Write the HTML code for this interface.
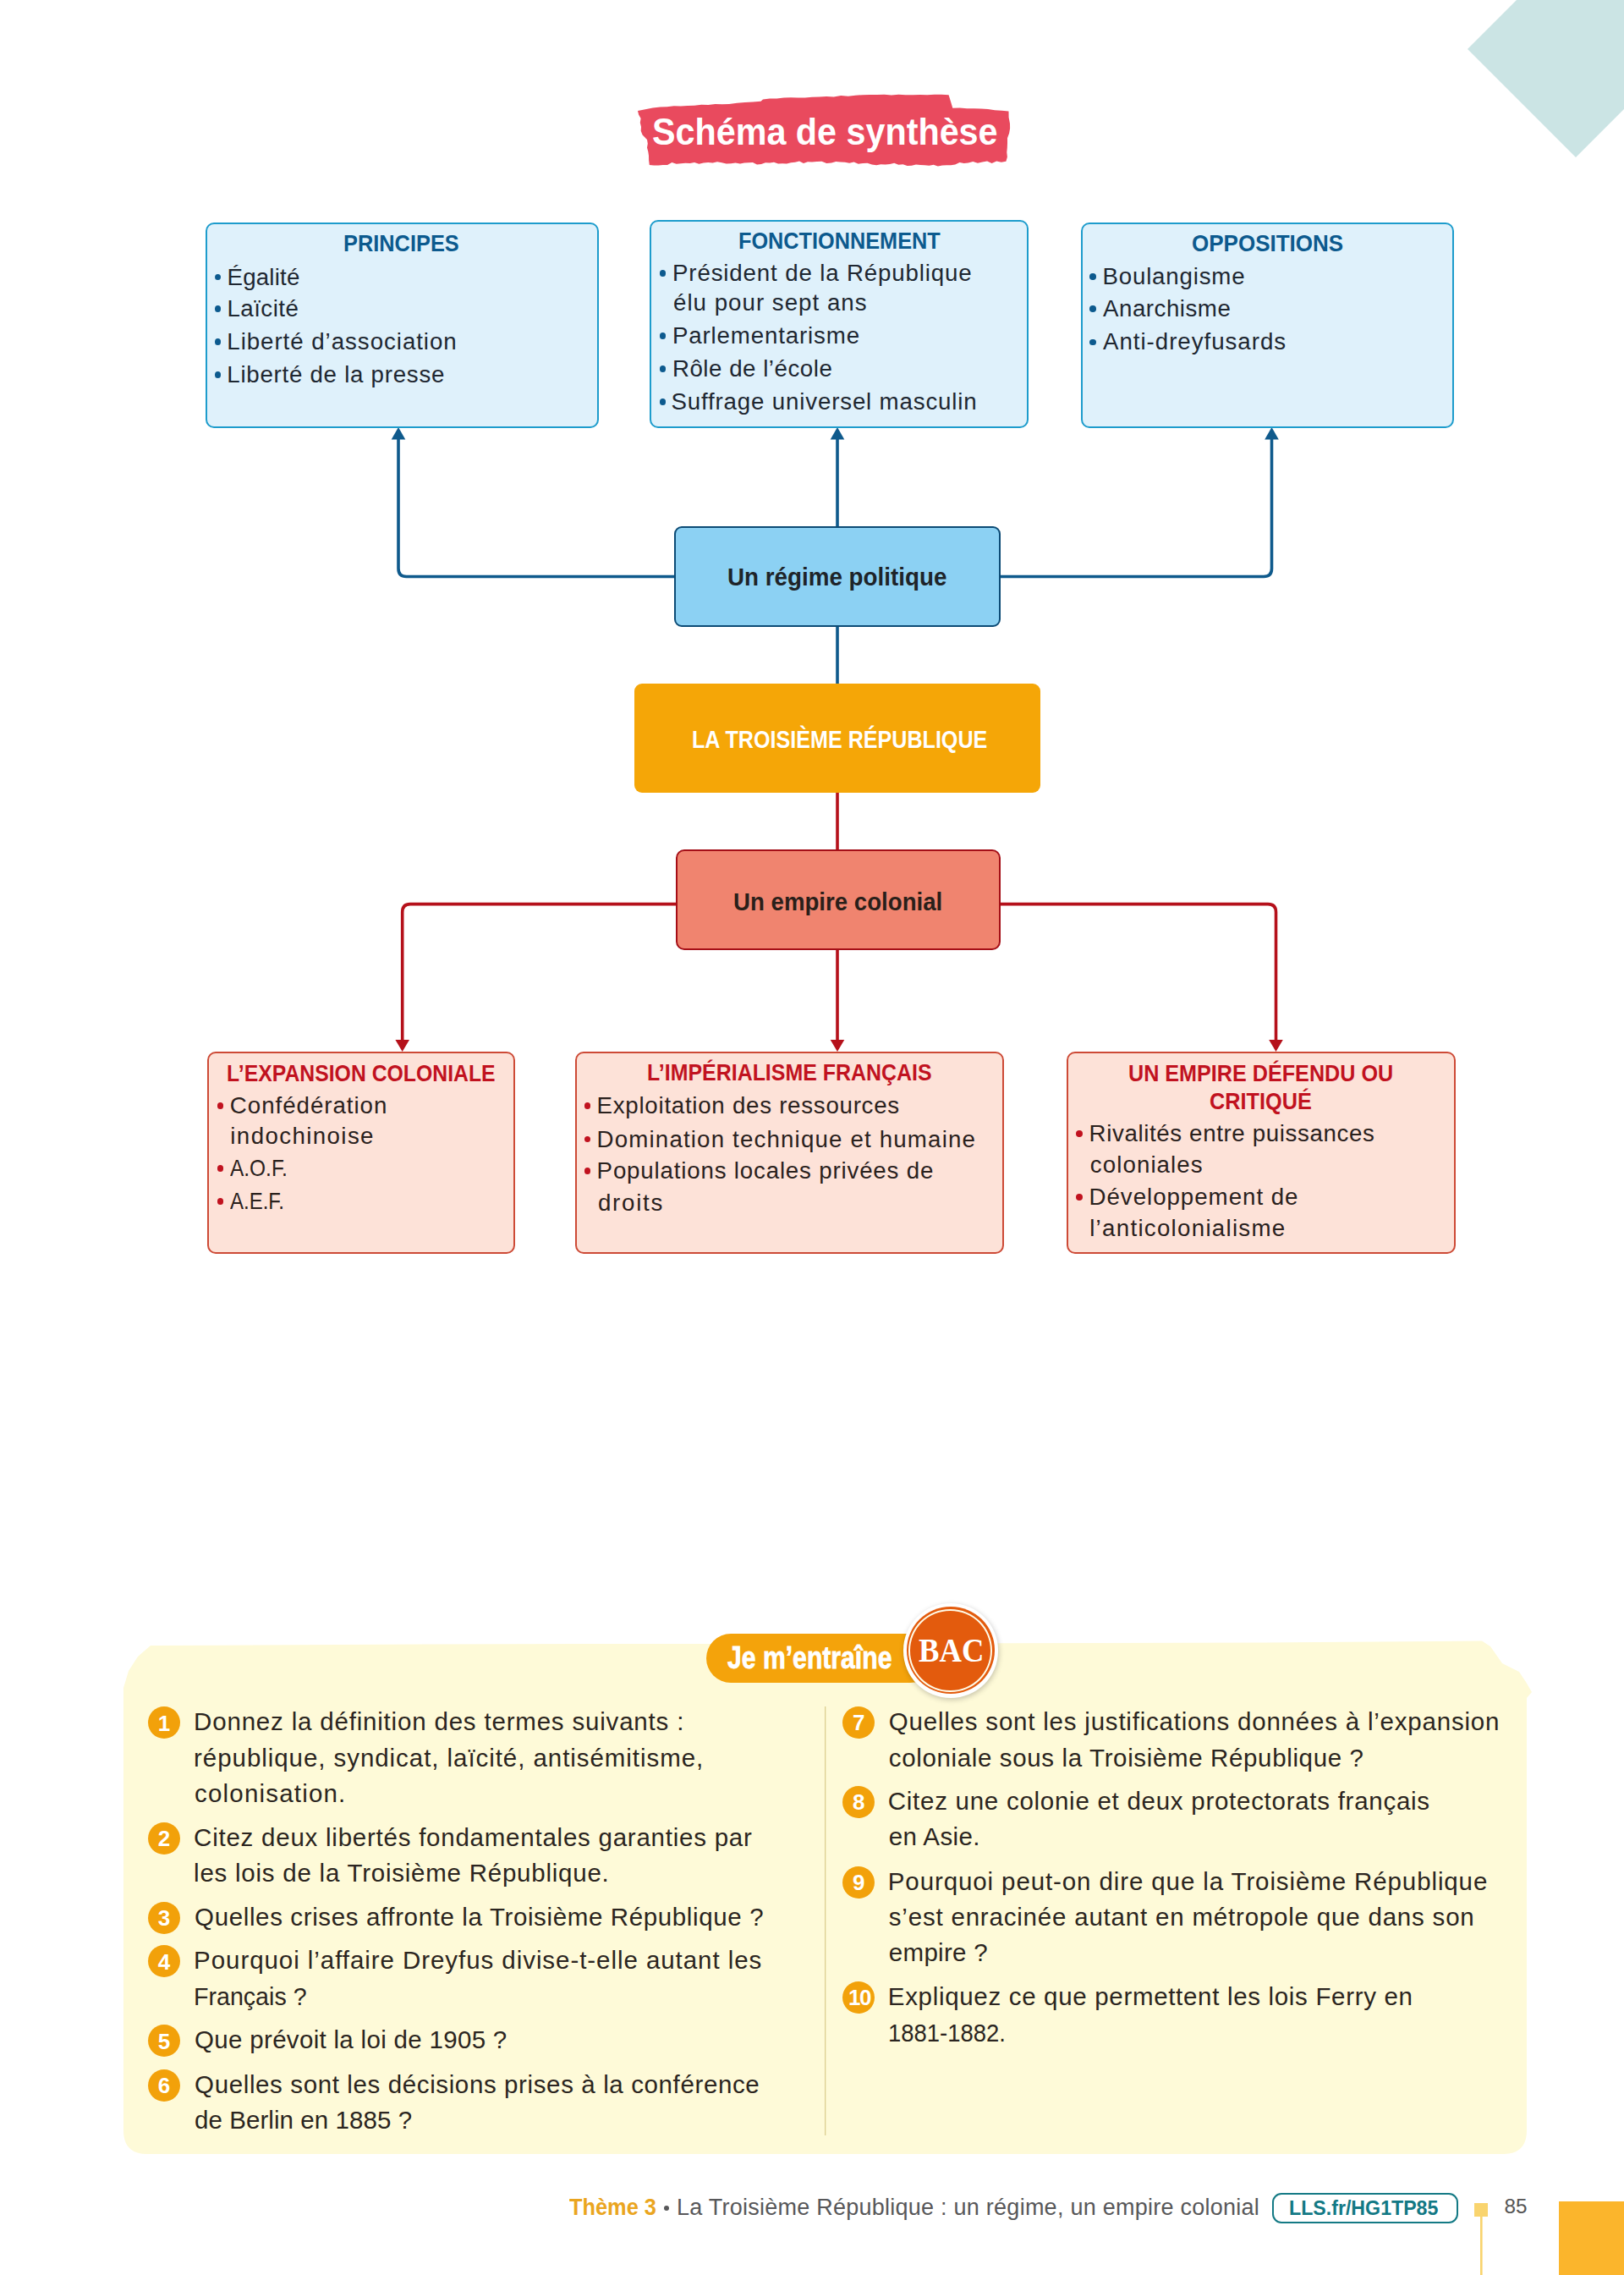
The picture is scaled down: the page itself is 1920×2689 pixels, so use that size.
<!DOCTYPE html>
<html><head><meta charset="utf-8"><style>
html,body{margin:0;padding:0;background:#ffffff;}
body{width:1920px;height:2689px;position:relative;overflow:hidden;font-family:"Liberation Sans",sans-serif;}
.t{position:absolute;white-space:nowrap;line-height:1;}
.b{position:absolute;box-sizing:border-box;}
.s{position:absolute;left:0;top:0;}
</style></head><body>
<svg class="s" width="1920" height="2689" viewBox="0 0 1920 2689"><polygon points="1735,58 1863,-70 1991,58 1863,186" fill="#cbe4e4"/><path d="M754.0,131.0 L762.9,129.3 L771.7,127.5 L780.6,126.4 L788.7,126.2 L796.8,125.2 L804.8,125.4 L812.9,124.9 L821.0,124.7 L829.2,123.8 L837.4,124.0 L845.6,123.1 L853.8,123.3 L862.0,123.0 L871.4,121.7 L880.8,120.9 L890.1,120.5 L899.5,119.8 L902.0,117.6 L910.0,116.5 L918.3,116.6 L926.7,115.5 L935.0,115.3 L943.3,115.5 L951.7,115.6 L960.0,114.8 L968.6,114.6 L977.1,114.1 L985.7,114.4 L994.2,113.0 L1002.8,113.7 L1011.3,112.7 L1019.9,112.2 L1028.4,111.9 L1037.0,112.0 L1045.5,111.8 L1053.9,112.4 L1062.4,111.7 L1070.8,112.2 L1079.3,112.3 L1087.8,112.0 L1096.2,112.3 L1104.7,111.7 L1113.1,111.7 L1121.6,112.3 L1124.0,120.0 L1126.3,127.7 L1134.7,127.5 L1143.2,128.3 L1151.6,128.2 L1160.0,128.5 L1168.1,129.1 L1176.2,130.2 L1184.4,130.8 L1192.5,131.6 L1192.6,138.8 L1194.0,146.0 L1194.1,151.8 L1193.1,157.5 L1191.0,163.2 L1191.0,169.0 L1190.8,174.4 L1190.3,179.9 L1190.9,185.4 L1189.4,190.8 L1183.8,191.7 L1178.2,190.5 L1172.6,192.9 L1167.1,190.4 L1161.5,191.5 L1155.9,192.8 L1150.3,191.1 L1144.7,192.4 L1139.6,192.9 L1134.5,192.0 L1129.3,194.5 L1124.2,195.3 L1119.1,195.2 L1114.0,195.5 L1108.8,196.6 L1103.7,194.7 L1098.5,195.7 L1093.3,195.3 L1088.2,195.1 L1083.0,194.6 L1077.8,195.7 L1072.7,195.9 L1067.5,194.3 L1062.3,194.8 L1057.2,192.7 L1052.0,194.0 L1046.7,194.5 L1041.4,194.2 L1036.1,195.2 L1030.8,194.5 L1025.5,192.7 L1020.2,192.9 L1014.8,193.7 L1009.5,191.5 L1004.2,192.8 L998.9,191.7 L993.6,191.4 L988.3,191.1 L983.0,192.4 L977.2,193.0 L971.5,190.8 L965.8,190.9 L960.0,191.5 L955.0,191.3 L950.0,192.9 L945.0,190.5 L940.0,191.8 L935.0,192.2 L930.0,193.4 L925.0,193.3 L920.0,193.6 L915.0,191.8 L910.0,192.4 L905.0,192.3 L900.0,194.1 L895.0,194.5 L890.0,192.0 L885.0,192.2 L880.0,192.5 L875.0,193.5 L869.6,192.5 L864.2,193.2 L858.8,193.4 L853.4,192.2 L848.0,191.2 L842.6,192.4 L837.2,192.1 L831.8,192.6 L826.4,193.7 L821.0,192.1 L815.7,193.0 L810.4,192.7 L805.0,193.3 L799.7,193.8 L794.4,192.1 L789.1,195.1 L783.8,195.0 L778.4,195.5 L773.1,195.6 L767.8,194.9 L767.1,189.4 L767.0,184.0 L766.3,179.2 L765.0,174.5 L765.8,169.8 L765.0,165.0 L759.6,159.6 L757.7,154.8 L758.0,150.0 L756.8,145.0 L757.6,140.0 L755.1,135.5 L754.0,131.0 Z" fill="#e94a5e"/><path d="M471,519 L471,672 Q471,681.5 480.5,681.5 L798,681.5" fill="none" stroke="#0f5a8c" stroke-width="3.6"/><path d="M1182,681.5 L1494,681.5 Q1503.5,681.5 1503.5,672 L1503.5,519" fill="none" stroke="#0f5a8c" stroke-width="3.6"/><path d="M990,519 L990,624" fill="none" stroke="#0f5a8c" stroke-width="3.6"/><path d="M990,740 L990,809" fill="none" stroke="#0f5a8c" stroke-width="3.6"/><polygon points="471,505 479.3,519.5 462.7,519.5" fill="#0f5a8c"/><polygon points="990,505 998.3,519.5 981.7,519.5" fill="#0f5a8c"/><polygon points="1503.5,505 1511.8,519.5 1495.2,519.5" fill="#0f5a8c"/><path d="M990,936 L990,1005" fill="none" stroke="#b5111b" stroke-width="3.6"/><path d="M990,1122 L990,1230" fill="none" stroke="#b5111b" stroke-width="3.6"/><path d="M800,1068.6 L485,1068.6 Q475.7,1068.6 475.7,1078 L475.7,1230" fill="none" stroke="#b5111b" stroke-width="3.6"/><path d="M1182,1068.6 L1499,1068.6 Q1508.5,1068.6 1508.5,1078 L1508.5,1230" fill="none" stroke="#b5111b" stroke-width="3.6"/><polygon points="467.4,1229 484.0,1229 475.7,1243" fill="#b5111b"/><polygon points="981.7,1229 998.3,1229 990,1243" fill="#b5111b"/><polygon points="1500.2,1229 1516.8,1229 1508.5,1243" fill="#b5111b"/><path d="M178,1945 L300,1944.5 L500,1943.5 L700,1943 L900,1943 L1100,1942.5 L1300,1942 L1500,1941.5 L1700,1940 L1752,1939.5 L1762,1946 L1776,1966 L1796,1976 L1804,1988 L1811,2000 L1805,2007 L1805,2518 Q1805,2546 1777,2546 L174,2546 Q146,2546 146,2518 L146,1995 L152,1975 L163,1958 Z" fill="#fefad8"/><rect x="975" y="2017" width="1.3" height="507" fill="#dccf90"/><rect x="1743" y="2604" width="16" height="16" fill="#f9d46e"/><rect x="1750" y="2618" width="2.6" height="71" fill="#f9d46e"/><rect x="1843" y="2602" width="77" height="87" fill="#fbb52c"/></svg>
<div class="b" style="left:242.7px;top:262.8px;width:465.3px;height:243.2px;border:2.5px solid #1d9ccc;background:#dff1fb;border-radius:10px"></div>
<div class="b" style="left:768px;top:260.3px;width:448px;height:245.7px;border:2.5px solid #1d9ccc;background:#dff1fb;border-radius:10px"></div>
<div class="b" style="left:1277.7px;top:263px;width:441.29999999999995px;height:243px;border:2.5px solid #1d9ccc;background:#dff1fb;border-radius:10px"></div>
<div class="b" style="left:253.6px;top:323.5px;width:7.6px;height:7.6px;border-radius:50%;background:#0c5a8e"></div>
<div class="b" style="left:253.6px;top:361.2px;width:7.6px;height:7.6px;border-radius:50%;background:#0c5a8e"></div>
<div class="b" style="left:253.6px;top:400.2px;width:7.6px;height:7.6px;border-radius:50%;background:#0c5a8e"></div>
<div class="b" style="left:253.6px;top:439.0px;width:7.6px;height:7.6px;border-radius:50%;background:#0c5a8e"></div>
<div class="b" style="left:779.9px;top:319.0px;width:7.6px;height:7.6px;border-radius:50%;background:#0c5a8e"></div>
<div class="b" style="left:779.9px;top:393.3px;width:7.6px;height:7.6px;border-radius:50%;background:#0c5a8e"></div>
<div class="b" style="left:779.9px;top:432.2px;width:7.6px;height:7.6px;border-radius:50%;background:#0c5a8e"></div>
<div class="b" style="left:779.9px;top:471.3px;width:7.6px;height:7.6px;border-radius:50%;background:#0c5a8e"></div>
<div class="b" style="left:1288.3px;top:323.1px;width:7.6px;height:7.6px;border-radius:50%;background:#0c5a8e"></div>
<div class="b" style="left:1288.3px;top:361.3px;width:7.6px;height:7.6px;border-radius:50%;background:#0c5a8e"></div>
<div class="b" style="left:1288.3px;top:400.5px;width:7.6px;height:7.6px;border-radius:50%;background:#0c5a8e"></div>
<div class="b" style="left:797px;top:622.4px;width:386px;height:118.60000000000002px;border:2.5px solid #0c4b75;background:#8cd1f3;border-radius:9px"></div>
<div class="b" style="left:750px;top:808px;width:480px;height:129px;background:#f5a607;border-radius:9px"></div>
<div class="b" style="left:799px;top:1004.3px;width:384px;height:118.70000000000005px;border:2.5px solid #a50f17;background:#f0846f;border-radius:10px"></div>
<div class="b" style="left:245px;top:1243px;width:363.5px;height:239px;border:2.3px solid #cd4a36;background:#fde2d8;border-radius:10px"></div>
<div class="b" style="left:680px;top:1243px;width:506.5px;height:239px;border:2.3px solid #cd4a36;background:#fde2d8;border-radius:10px"></div>
<div class="b" style="left:1261px;top:1243px;width:460px;height:239px;border:2.3px solid #cd4a36;background:#fde2d8;border-radius:10px"></div>
<div class="b" style="left:256.6px;top:1303.2px;width:7.6px;height:7.6px;border-radius:50%;background:#c1121f"></div>
<div class="b" style="left:256.6px;top:1377.4px;width:7.6px;height:7.6px;border-radius:50%;background:#c1121f"></div>
<div class="b" style="left:256.6px;top:1416.3px;width:7.6px;height:7.6px;border-radius:50%;background:#c1121f"></div>
<div class="b" style="left:690.6px;top:1303.2px;width:7.6px;height:7.6px;border-radius:50%;background:#c1121f"></div>
<div class="b" style="left:690.6px;top:1342.5px;width:7.6px;height:7.6px;border-radius:50%;background:#c1121f"></div>
<div class="b" style="left:690.6px;top:1380.4px;width:7.6px;height:7.6px;border-radius:50%;background:#c1121f"></div>
<div class="b" style="left:1272.0px;top:1336.1px;width:7.8px;height:7.8px;border-radius:50%;background:#c1121f"></div>
<div class="b" style="left:1272.0px;top:1411.3px;width:7.8px;height:7.8px;border-radius:50%;background:#c1121f"></div>
<div class="b" style="left:835px;top:1931px;width:270px;height:58px;background:#f4a30b;border-radius:29px"></div>
<div class="t" style="left:859.5px;top:1941.4px;font-size:37px;font-weight:700;color:#ffffff;letter-spacing:0px;transform:scaleX(0.815);transform-origin:0 0;-webkit-text-stroke:0.8px #ffffff;">Je m’entraîne</div>
<div class="b" style="left:1067.7px;top:1895.2px;width:112.4px;height:111.4px;border-radius:50%;background:#ffffff;box-shadow:1px 2px 6px rgba(0,0,0,0.22)"></div>
<div class="b" style="left:1072px;top:1899.2px;width:103.7px;height:103.3px;border-radius:50%;background:#e35b0d"></div>
<div class="b" style="left:1074.4px;top:1901.6px;width:98.9px;height:98.5px;border-radius:50%;border:2px solid #fffbe8"></div>
<div class="t" style="left:1086.3px;top:1931px;font-family:'Liberation Serif',serif;font-size:40px;font-weight:700;color:#fff;transform:scaleX(0.916);transform-origin:0 0">BAC</div>
<div class="b" style="left:175.0px;top:2017.1px;width:38px;height:38px;border-radius:50%;background:#f2a10a"></div>
<div class="t" style="left:164.0px;width:60px;text-align:center;top:2023.6px;font-size:26px;font-weight:700;color:#fff;letter-spacing:0px">1</div>
<div class="b" style="left:175.0px;top:2153.7px;width:38px;height:38px;border-radius:50%;background:#f2a10a"></div>
<div class="t" style="left:164.0px;width:60px;text-align:center;top:2160.2px;font-size:26px;font-weight:700;color:#fff;letter-spacing:0px">2</div>
<div class="b" style="left:175.0px;top:2247.5px;width:38px;height:38px;border-radius:50%;background:#f2a10a"></div>
<div class="t" style="left:164.0px;width:60px;text-align:center;top:2254.0px;font-size:26px;font-weight:700;color:#fff;letter-spacing:0px">3</div>
<div class="b" style="left:175.0px;top:2299.4px;width:38px;height:38px;border-radius:50%;background:#f2a10a"></div>
<div class="t" style="left:164.0px;width:60px;text-align:center;top:2305.9px;font-size:26px;font-weight:700;color:#fff;letter-spacing:0px">4</div>
<div class="b" style="left:175.0px;top:2393.3px;width:38px;height:38px;border-radius:50%;background:#f2a10a"></div>
<div class="t" style="left:164.0px;width:60px;text-align:center;top:2399.8px;font-size:26px;font-weight:700;color:#fff;letter-spacing:0px">5</div>
<div class="b" style="left:175.0px;top:2445.6px;width:38px;height:38px;border-radius:50%;background:#f2a10a"></div>
<div class="t" style="left:164.0px;width:60px;text-align:center;top:2452.1px;font-size:26px;font-weight:700;color:#fff;letter-spacing:0px">6</div>
<div class="b" style="left:996.3px;top:2016.8px;width:38px;height:38px;border-radius:50%;background:#f2a10a"></div>
<div class="t" style="left:985.3px;width:60px;text-align:center;top:2023.3px;font-size:26px;font-weight:700;color:#fff;letter-spacing:0px">7</div>
<div class="b" style="left:996.3px;top:2110.6px;width:38px;height:38px;border-radius:50%;background:#f2a10a"></div>
<div class="t" style="left:985.3px;width:60px;text-align:center;top:2117.1px;font-size:26px;font-weight:700;color:#fff;letter-spacing:0px">8</div>
<div class="b" style="left:996.3px;top:2205.6px;width:38px;height:38px;border-radius:50%;background:#f2a10a"></div>
<div class="t" style="left:985.3px;width:60px;text-align:center;top:2212.1px;font-size:26px;font-weight:700;color:#fff;letter-spacing:0px">9</div>
<div class="b" style="left:996.3px;top:2341.7px;width:38px;height:38px;border-radius:50%;background:#f2a10a"></div>
<div class="t" style="left:986.0px;width:60px;text-align:center;top:2348.2px;font-size:26px;font-weight:700;color:#fff;letter-spacing:-1.5px">10</div>
<div class="t" style="left:673px;top:2596.1px;font-size:27px;font-weight:700;color:#eaa520;transform:scaleX(0.94);transform-origin:0 0">Thème 3</div>
<div class="b" style="left:784.7px;top:2606.5px;width:6.2px;height:6.2px;border-radius:50%;background:#58585a"></div>
<div class="t" style="left:799.9px;top:2596.1px;font-size:27px;color:#58585a;letter-spacing:0.25px">La Troisième République : un régime, un empire colonial</div>
<div class="b" style="left:1503.5px;top:2591.9px;width:220px;height:36.4px;border:2.1px solid #147a85;border-radius:11px"></div>
<div class="t" style="left:1523.7px;top:2597.8px;font-size:24.4px;font-weight:700;color:#137985;transform:scaleX(0.95);transform-origin:0 0">LLS.fr/HG1TP85</div>
<div class="t" style="left:1778.4px;top:2595.9px;font-size:24.3px;color:#555555">85</div>
<div class="t" style="left:268.5px;top:313.5px;font-size:27.7px;font-weight:400;color:#1e2731;letter-spacing:0.20px;">Égalité</div>
<div class="t" style="left:268.5px;top:351.2px;font-size:27.7px;font-weight:400;color:#1e2731;letter-spacing:0.45px;">Laïcité</div>
<div class="t" style="left:268.3px;top:390.2px;font-size:27.7px;font-weight:400;color:#1e2731;letter-spacing:0.95px;">Liberté d’association</div>
<div class="t" style="left:268.3px;top:429.0px;font-size:27.7px;font-weight:400;color:#1e2731;letter-spacing:0.73px;">Liberté de la presse</div>
<div class="t" style="left:795.0px;top:309.0px;font-size:27.7px;font-weight:400;color:#1e2731;letter-spacing:0.85px;">Président de la République</div>
<div class="t" style="left:796.0px;top:344.2px;font-size:27.7px;font-weight:400;color:#1e2731;letter-spacing:1.01px;">élu pour sept ans</div>
<div class="t" style="left:794.9px;top:383.3px;font-size:27.7px;font-weight:400;color:#1e2731;letter-spacing:0.85px;">Parlementarisme</div>
<div class="t" style="left:794.9px;top:422.2px;font-size:27.7px;font-weight:400;color:#1e2731;letter-spacing:0.52px;">Rôle de l’école</div>
<div class="t" style="left:793.5px;top:461.3px;font-size:27.7px;font-weight:400;color:#1e2731;letter-spacing:0.83px;">Suffrage universel masculin</div>
<div class="t" style="left:1303.5px;top:312.9px;font-size:27.7px;font-weight:400;color:#1e2731;letter-spacing:0.80px;">Boulangisme</div>
<div class="t" style="left:1304.0px;top:351.1px;font-size:27.7px;font-weight:400;color:#1e2731;letter-spacing:0.51px;">Anarchisme</div>
<div class="t" style="left:1304.0px;top:390.3px;font-size:27.7px;font-weight:400;color:#1e2731;letter-spacing:0.97px;">Anti-dreyfusards</div>
<div class="t" style="left:271.8px;top:1293.2px;font-size:27.7px;font-weight:400;color:#2a211d;letter-spacing:0.97px;">Confédération</div>
<div class="t" style="left:272.3px;top:1328.5px;font-size:27.7px;font-weight:400;color:#2a211d;letter-spacing:1.39px;">indochinoise</div>
<div class="t" style="left:272.0px;top:1367.4px;font-size:27.7px;font-weight:400;color:#2a211d;letter-spacing:0.00px;transform:scaleX(0.8827);transform-origin:0 0;">A.O.F.</div>
<div class="t" style="left:272.0px;top:1406.3px;font-size:27.7px;font-weight:400;color:#2a211d;letter-spacing:0.00px;transform:scaleX(0.8667);transform-origin:0 0;">A.E.F.</div>
<div class="t" style="left:705.6px;top:1293.2px;font-size:27.7px;font-weight:400;color:#2a211d;letter-spacing:0.73px;">Exploitation des ressources</div>
<div class="t" style="left:705.6px;top:1332.5px;font-size:27.7px;font-weight:400;color:#2a211d;letter-spacing:1.16px;">Domination technique et humaine</div>
<div class="t" style="left:705.6px;top:1370.4px;font-size:27.7px;font-weight:400;color:#2a211d;letter-spacing:0.82px;">Populations locales privées de</div>
<div class="t" style="left:707.0px;top:1408.0px;font-size:27.7px;font-weight:400;color:#2a211d;letter-spacing:1.72px;">droits</div>
<div class="t" style="left:1287.5px;top:1326.2px;font-size:27.7px;font-weight:400;color:#2a211d;letter-spacing:0.63px;">Rivalités entre puissances</div>
<div class="t" style="left:1288.8px;top:1362.5px;font-size:27.7px;font-weight:400;color:#2a211d;letter-spacing:1.08px;">coloniales</div>
<div class="t" style="left:1287.5px;top:1401.4px;font-size:27.7px;font-weight:400;color:#2a211d;letter-spacing:0.97px;">Développement de</div>
<div class="t" style="left:1288.2px;top:1438.0px;font-size:27.7px;font-weight:400;color:#2a211d;letter-spacing:1.28px;">l’anticolonialisme</div>
<div class="t" style="left:406.3px;top:274.4px;font-size:27.6px;font-weight:700;color:#0c5a8e;letter-spacing:0.00px;transform:scaleX(0.9192);transform-origin:0 0;">PRINCIPES</div>
<div class="t" style="left:873.1px;top:271.4px;font-size:27.6px;font-weight:700;color:#0c5a8e;letter-spacing:0.00px;transform:scaleX(0.9159);transform-origin:0 0;">FONCTIONNEMENT</div>
<div class="t" style="left:1408.5px;top:274.4px;font-size:27.6px;font-weight:700;color:#0c5a8e;letter-spacing:0.00px;transform:scaleX(0.9426);transform-origin:0 0;">OPPOSITIONS</div>
<div class="t" style="left:860.0px;top:668.0px;font-size:29px;font-weight:700;color:#1e2429;letter-spacing:0.00px;transform:scaleX(0.9582);transform-origin:0 0;">Un régime politique</div>
<div class="t" style="left:818.3px;top:860.2px;font-size:29px;font-weight:700;color:#ffffff;letter-spacing:0.00px;transform:scaleX(0.8660);transform-origin:0 0;">LA TROISIÈME RÉPUBLIQUE</div>
<div class="t" style="left:867.1px;top:1051.5px;font-size:29px;font-weight:700;color:#2a1f1a;letter-spacing:0.00px;transform:scaleX(0.9531);transform-origin:0 0;">Un empire colonial</div>
<div class="t" style="left:268.4px;top:1254.8px;font-size:27.2px;font-weight:700;color:#c1121f;letter-spacing:0.00px;transform:scaleX(0.9116);transform-origin:0 0;">L’EXPANSION COLONIALE</div>
<div class="t" style="left:764.5px;top:1254.3px;font-size:27.2px;font-weight:700;color:#c1121f;letter-spacing:0.00px;transform:scaleX(0.9168);transform-origin:0 0;">L’IMPÉRIALISME FRANÇAIS</div>
<div class="t" style="left:1334.0px;top:1254.8px;font-size:27.2px;font-weight:700;color:#c1121f;letter-spacing:0.00px;transform:scaleX(0.9254);transform-origin:0 0;">UN EMPIRE DÉFENDU OU</div>
<div class="t" style="left:1430.1px;top:1287.9px;font-size:27.2px;font-weight:700;color:#c1121f;letter-spacing:0.00px;transform:scaleX(0.9297);transform-origin:0 0;">CRITIQUÉ</div>
<div class="t" style="left:771.2px;top:133.0px;font-size:45px;font-weight:700;color:#ffffff;letter-spacing:0.00px;transform:scaleX(0.9176);transform-origin:0 0;">Schéma de synthèse</div>
<div class="t" style="left:229.1px;top:2020.1px;font-size:29.5px;font-weight:400;color:#2b2520;letter-spacing:0.81px;">Donnez la définition des termes suivants :</div>
<div class="t" style="left:229.1px;top:2062.7px;font-size:29.5px;font-weight:400;color:#2b2520;letter-spacing:0.94px;">république, syndicat, laïcité, antisémitisme,</div>
<div class="t" style="left:230.1px;top:2105.0px;font-size:29.5px;font-weight:400;color:#2b2520;letter-spacing:1.18px;">colonisation.</div>
<div class="t" style="left:229.1px;top:2156.7px;font-size:29.5px;font-weight:400;color:#2b2520;letter-spacing:0.76px;">Citez deux libertés fondamentales garanties par</div>
<div class="t" style="left:229.1px;top:2198.9px;font-size:29.5px;font-weight:400;color:#2b2520;letter-spacing:0.76px;">les lois de la Troisième République.</div>
<div class="t" style="left:230.1px;top:2250.5px;font-size:29.5px;font-weight:400;color:#2b2520;letter-spacing:0.63px;">Quelles crises affronte la Troisième République ?</div>
<div class="t" style="left:229.1px;top:2302.4px;font-size:29.5px;font-weight:400;color:#2b2520;letter-spacing:0.94px;">Pourquoi l’affaire Dreyfus divise-t-elle autant les</div>
<div class="t" style="left:229.2px;top:2344.7px;font-size:29.5px;font-weight:400;color:#2b2520;letter-spacing:0.00px;transform:scaleX(0.9696);transform-origin:0 0;">Français ?</div>
<div class="t" style="left:230.1px;top:2396.3px;font-size:29.5px;font-weight:400;color:#2b2520;letter-spacing:0.31px;">Que prévoit la loi de 1905 ?</div>
<div class="t" style="left:230.1px;top:2448.6px;font-size:29.5px;font-weight:400;color:#2b2520;letter-spacing:0.62px;">Quelles sont les décisions prises à la conférence</div>
<div class="t" style="left:230.1px;top:2491.4px;font-size:29.5px;font-weight:400;color:#2b2520;letter-spacing:0.06px;">de Berlin en 1885 ?</div>
<div class="t" style="left:1050.8px;top:2019.8px;font-size:29.5px;font-weight:400;color:#2b2520;letter-spacing:0.79px;">Quelles sont les justifications données à l’expansion</div>
<div class="t" style="left:1050.8px;top:2062.7px;font-size:29.5px;font-weight:400;color:#2b2520;letter-spacing:0.64px;">coloniale sous la Troisième République ?</div>
<div class="t" style="left:1049.8px;top:2113.6px;font-size:29.5px;font-weight:400;color:#2b2520;letter-spacing:0.73px;">Citez une colonie et deux protectorats français</div>
<div class="t" style="left:1050.8px;top:2156.4px;font-size:29.5px;font-weight:400;color:#2b2520;letter-spacing:0.39px;">en Asie.</div>
<div class="t" style="left:1049.8px;top:2208.6px;font-size:29.5px;font-weight:400;color:#2b2520;letter-spacing:0.89px;">Pourquoi peut-on dire que la Troisième République</div>
<div class="t" style="left:1050.8px;top:2250.6px;font-size:29.5px;font-weight:400;color:#2b2520;letter-spacing:0.80px;">s’est enracinée autant en métropole que dans son</div>
<div class="t" style="left:1050.8px;top:2292.7px;font-size:29.5px;font-weight:400;color:#2b2520;letter-spacing:0.31px;">empire ?</div>
<div class="t" style="left:1049.8px;top:2344.7px;font-size:29.5px;font-weight:400;color:#2b2520;letter-spacing:0.68px;">Expliquez ce que permettent les lois Ferry en</div>
<div class="t" style="left:1049.9px;top:2387.6px;font-size:29.5px;font-weight:400;color:#2b2520;letter-spacing:0.00px;transform:scaleX(0.9297);transform-origin:0 0;">1881-1882.</div>
</body></html>
